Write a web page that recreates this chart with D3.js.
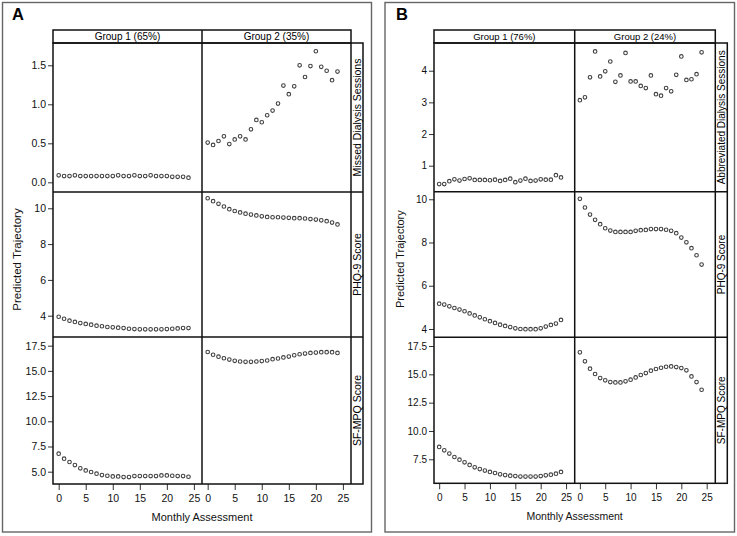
<!DOCTYPE html>
<html>
<head>
<meta charset="utf-8">
<script src="https://cdn.jsdelivr.net/npm/d3@7"></script>
<style>
  html, body { margin: 0; padding: 0; background: #fff; }
  svg { display: block; font-family: "Liberation Sans", Arial, sans-serif; }
</style>
</head>
<body>
<svg id="chart" width="737" height="536"></svg>
<script>
// ---------------- DATA ----------------
const months = [0,1,2,3,4,5,6,7,8,9,10,11,12,13,14,15,16,17,18,19,20,21,22,23,24];
const xTicks = [0,5,10,15,20,25];

// Panel A
const aGroupLabels = ["Group 1 (65%)", "Group 2 (35%)"];
const aRowLabels = ["Missed Dialysis Sessions", "PHQ-9 Score", "SF-MPQ Score"];
const aMissedG1 = [0.09,0.08,0.08,0.09,0.08,0.08,0.08,0.08,0.08,0.08,0.08,0.09,0.08,0.08,0.09,0.08,0.08,0.09,0.08,0.08,0.08,0.07,0.07,0.07,0.06];
const aMissedG2 = [0.51,0.48,0.53,0.59,0.49,0.55,0.59,0.55,0.68,0.80,0.77,0.86,0.92,1.01,1.24,1.13,1.23,1.50,1.35,1.49,1.68,1.48,1.43,1.31,1.42];
const aPhqG1 = [3.94,3.83,3.72,3.65,3.59,3.54,3.50,3.44,3.41,3.37,3.35,3.33,3.31,3.27,3.25,3.24,3.24,3.24,3.24,3.24,3.25,3.27,3.29,3.31,3.31];
const aPhqG2 = [10.56,10.40,10.25,10.10,9.95,9.85,9.77,9.70,9.65,9.60,9.55,9.52,9.50,9.50,9.48,9.47,9.45,9.45,9.43,9.40,9.37,9.33,9.28,9.20,9.10];
const aSfG1 = [6.79,6.29,5.96,5.66,5.33,5.13,4.97,4.80,4.67,4.60,4.53,4.53,4.47,4.47,4.57,4.57,4.57,4.57,4.57,4.63,4.63,4.60,4.57,4.57,4.50];
const aSfG2 = [16.87,16.60,16.41,16.25,16.12,16.00,15.93,15.90,15.90,15.93,15.97,16.03,16.16,16.23,16.33,16.42,16.55,16.65,16.72,16.78,16.82,16.85,16.85,16.85,16.78];
const aYTicks = [[0,0.5,1,1.5],[4,6,8,10],[5,7.5,10,12.5,15,17.5]];
const aYFormats = [".1f", "d", ".1f"];

// Panel B
const bGroupLabels = ["Group 1 (76%)", "Group 2 (24%)"];
const bRowLabels = ["Abbreviated Dialysis Sessions", "PHQ-9 Score", "SF-MPQ Score"];
const bAbbrG1 = [0.42,0.42,0.51,0.57,0.53,0.58,0.60,0.55,0.55,0.55,0.54,0.56,0.52,0.55,0.59,0.48,0.53,0.59,0.52,0.53,0.57,0.56,0.56,0.70,0.63];
const bAbbrG2 = [3.07,3.16,3.79,4.61,3.82,3.98,4.29,3.65,3.85,4.56,3.66,3.66,3.52,3.45,3.85,3.26,3.21,3.45,3.35,3.87,4.45,3.71,3.73,3.89,4.58];
const bPhqG1 = [5.17,5.13,5.05,4.97,4.90,4.82,4.72,4.63,4.54,4.45,4.36,4.28,4.20,4.14,4.09,4.03,4.00,3.99,3.99,3.99,4.03,4.11,4.19,4.25,4.42];
const bPhqG2 = [10.02,9.62,9.29,9.05,8.85,8.66,8.55,8.49,8.49,8.49,8.49,8.54,8.57,8.58,8.62,8.62,8.62,8.59,8.54,8.43,8.23,8.01,7.74,7.41,6.98];
const bSfG1 = [8.59,8.29,8.00,7.70,7.47,7.23,7.00,6.79,6.64,6.50,6.38,6.29,6.17,6.11,6.05,6.02,5.97,5.97,5.97,5.97,6.02,6.08,6.14,6.23,6.38];
const bSfG2 = [16.94,16.15,15.50,15.03,14.67,14.47,14.32,14.29,14.29,14.38,14.53,14.73,14.94,15.11,15.32,15.47,15.58,15.67,15.70,15.64,15.55,15.35,14.82,14.32,13.64];
const bYTicks = [[1,2,3,4],[4,6,8,10],[7.5,10,12.5,15,17.5]];
const bYFormats = ["d", "d", ".1f"];

// ---------------- LAYOUT ----------------
const panels = [
  {
    letter: "A", frame: [2.5, 2.5, 371.5, 532], letterPos: [12, 20],
    cols: [53, 202, 351], stripRight: 363, stripTop: 30,
    rows: [43, 192, 337, 484],
    xDomain: [-1.05, 26.5],
    yDomains: [[-0.124, 1.786], [2.81, 10.91], [3.78, 18.36]],
    yTicks: aYTicks, yFormats: aYFormats,
    groups: aGroupLabels, rowLabels: aRowLabels,
    series: [[aMissedG1, aMissedG2], [aPhqG1, aPhqG2], [aSfG1, aSfG2]],
    yTitleX: 17, fs: 10.5
  },
  {
    letter: "B", frame: [385, 2.5, 734.5, 532], letterPos: [396, 20],
    cols: [434, 574.7, 715.3], stripRight: 727.3, stripTop: 30,
    rows: [43, 191.7, 337.3, 483.3],
    xDomain: [-1.02, 26.7],
    yDomains: [[0.179, 4.875], [3.616, 10.35], [5.38, 18.27]],
    yTicks: bYTicks, yFormats: bYFormats,
    groups: bGroupLabels, rowLabels: bRowLabels,
    series: [[bAbbrG1, bAbbrG2], [bPhqG1, bPhqG2], [bSfG1, bSfG2]],
    yTitleX: 400, fs: 10
  }
];

const svg = d3.select("#chart");

panels.forEach(p => {
  const g = svg.append("g");
  // outer frame
  g.append("rect")
    .attr("x", p.frame[0]).attr("y", p.frame[1])
    .attr("width", p.frame[2] - p.frame[0]).attr("height", p.frame[3] - p.frame[1])
    .attr("fill", "none").attr("stroke", "#666").attr("stroke-width", 1.4);
  g.append("text")
    .attr("x", p.letterPos[0]).attr("y", p.letterPos[1])
    .attr("font-size", 16.5).attr("font-weight", "bold").attr("fill", "#000")
    .text(p.letter);

  const left = p.cols[0], right = p.cols[2];
  const top = p.rows[0], bottom = p.rows[3];

  // points
  p.series.forEach((rowSeries, ri) => {
    const y = d3.scaleLinear().domain(p.yDomains[ri]).range([p.rows[ri + 1], p.rows[ri]]);
    rowSeries.forEach((vals, ci) => {
      const x = d3.scaleLinear().domain(p.xDomain).range([p.cols[ci], p.cols[ci + 1]]);
      g.append("g").selectAll("circle")
        .data(months.map((m, i) => ({m, v: vals[i]})))
        .join("circle")
        .attr("cx", d => x(d.m)).attr("cy", d => y(d.v))
        .attr("r", 1.8)
        .attr("fill", "none").attr("stroke", "#404040").attr("stroke-width", 1.1);
    });

    // y axis
    const ax = g.append("g").attr("transform", `translate(${left},0)`)
      .call(d3.axisLeft(y).tickValues(p.yTicks[ri]).tickFormat(d3.format(p.yFormats[ri])).tickSize(5).tickPadding(2));
    ax.select(".domain").remove();
    ax.selectAll("line").attr("stroke", "#333");
    ax.selectAll("text").attr("font-size", p.fs).attr("fill", "#111")
      .attr("font-family", "Liberation Sans, Arial, sans-serif");

    // right strip label
    const cy = (p.rows[ri] + p.rows[ri + 1]) / 2;
    const cx = (right + p.stripRight) / 2;
    g.append("text")
      .attr("transform", `translate(${cx + 3.6},${cy}) rotate(-90)`)
      .attr("text-anchor", "middle")
      .attr("font-size", p.fs).attr("fill", "#000")
      .text(p.rowLabels[ri]);
  });

  // x axes
  [0, 1].forEach(ci => {
    const x = d3.scaleLinear().domain(p.xDomain).range([p.cols[ci], p.cols[ci + 1]]);
    const ax = g.append("g").attr("transform", `translate(0,${bottom})`)
      .call(d3.axisBottom(x).tickValues(xTicks).tickSize(6).tickPadding(5));
    ax.select(".domain").remove();
    ax.selectAll("line").attr("stroke", "#333");
    ax.selectAll("text").attr("font-size", p.fs).attr("fill", "#111")
      .attr("font-family", "Liberation Sans, Arial, sans-serif");
    // top strips
    g.append("text")
      .attr("x", (p.cols[ci] + p.cols[ci + 1]) / 2)
      .attr("y", p.stripTop + 9.8)
      .attr("text-anchor", "middle")
      .attr("font-size", p.fs - 0.5).attr("fill", "#000")
      .text(p.groups[ci]);
  });

  // axis titles
  g.append("text")
    .attr("x", (left + right) / 2).attr("y", bottom + 37)
    .attr("text-anchor", "middle").attr("font-size", p.fs + 0.5).attr("fill", "#111")
    .text("Monthly Assessment");
  g.append("text")
    .attr("transform", `translate(${p.yTitleX + 4},${(top + bottom) / 2 - 4}) rotate(-90)`)
    .attr("text-anchor", "middle").attr("font-size", p.fs + 1).attr("fill", "#111")
    .text("Predicted Trajectory");

  // grid borders
  const lw = 1.5;
  g.append("rect").attr("x", left).attr("y", p.stripTop)
    .attr("width", right - left).attr("height", top - p.stripTop)
    .attr("fill", "none").attr("stroke", "#111").attr("stroke-width", lw);
  g.append("rect").attr("x", left).attr("y", top)
    .attr("width", p.stripRight - left).attr("height", bottom - top)
    .attr("fill", "none").attr("stroke", "#111").attr("stroke-width", lw);
  g.append("line").attr("x1", p.cols[1]).attr("x2", p.cols[1])
    .attr("y1", p.stripTop).attr("y2", bottom).attr("stroke", "#111").attr("stroke-width", lw);
  g.append("line").attr("x1", right).attr("x2", right)
    .attr("y1", top).attr("y2", bottom).attr("stroke", "#111").attr("stroke-width", lw);
  [p.rows[1], p.rows[2]].forEach(yy => {
    g.append("line").attr("x1", left).attr("x2", p.stripRight)
      .attr("y1", yy).attr("y2", yy).attr("stroke", "#111").attr("stroke-width", lw);
  });
});
</script>
</body>
</html>
